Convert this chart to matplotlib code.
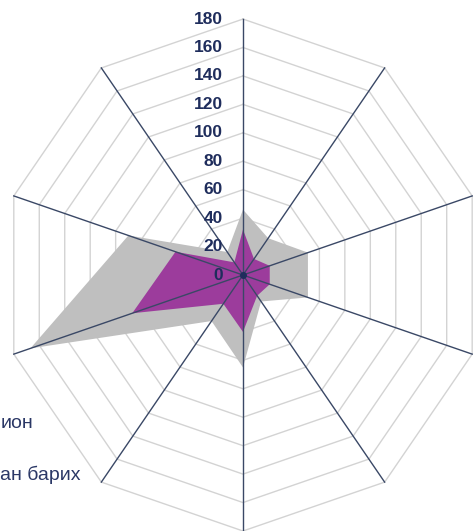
import numpy as np
import matplotlib; matplotlib.use("Agg")
import matplotlib.pyplot as plt

# radar data, 10 spokes clockwise from the top
grey_vals   = [46, 32, 51, 51, 23, 65, 40, 167, 90, 20]
purple_vals = [32, 14, 21, 21, 18, 40, 25, 87, 53, 11]
rings       = [0, 20, 40, 60, 80, 100, 120, 140, 160, 180]
tick_labels = ["0", "20", "40", "60", "80", "100", "120", "140", "160", "180"]
legend_txt  = ["ион", "ан барих"]   # cut off at the left edge in the original

GREY, PURPLE = "#BFBFBF", "#9C3C9C"
NAVY, SPOKE, GRID = "#1F2D5C", "#3A4866", "#D3D3D3"

n   = len(grey_vals)
ang = 2 * np.pi * np.arange(n) / n


def to_xy(vals):
    v = np.asarray(vals, dtype=float)
    return v * np.sin(ang), v * np.cos(ang)


fig = plt.figure(figsize=(4.75, 5.31), dpi=100)
ax = fig.add_axes([0, 0, 1, 1])
ax.set_xlim(-181.5, 173.3)
ax.set_ylim(-180.0, 193.4)
ax.axis("off")

# grid rings
for r in rings[1:]:
    x, y = to_xy([r] * n)
    ax.plot(np.append(x, x[0]), np.append(y, y[0]), color=GRID, lw=1.0, zorder=1)

# series
gx, gy = to_xy(grey_vals)
ax.fill(gx, gy, color=GREY, lw=0, zorder=2)
px, py = to_xy(purple_vals)
ax.fill(px, py, color=PURPLE, lw=0, zorder=3)

# spokes
ox, oy = to_xy([rings[-1]] * n)
for x, y in zip(ox, oy):
    ax.plot([0, x], [0, y], color=SPOKE, lw=1.0, zorder=4)
ax.plot([0], [0], "o", color=NAVY, ms=4, zorder=5)

# value labels along the top spoke
for r, lab in zip(rings, tick_labels):
    ax.text(-15, r, lab, ha="right", va="center", fontsize=12.5,
            fontweight="bold", color=NAVY, family="Liberation Sans", zorder=6)

# partial legend texts on the left
for xx, yy, t in zip([33, 81], [423, 475], legend_txt):
    fig.text(xx / 475, 1 - yy / 531, t, ha="right", va="center",
             fontsize=14, color="#2B3866", family="Liberation Sans")

fig.savefig("out.png", dpi=100)
